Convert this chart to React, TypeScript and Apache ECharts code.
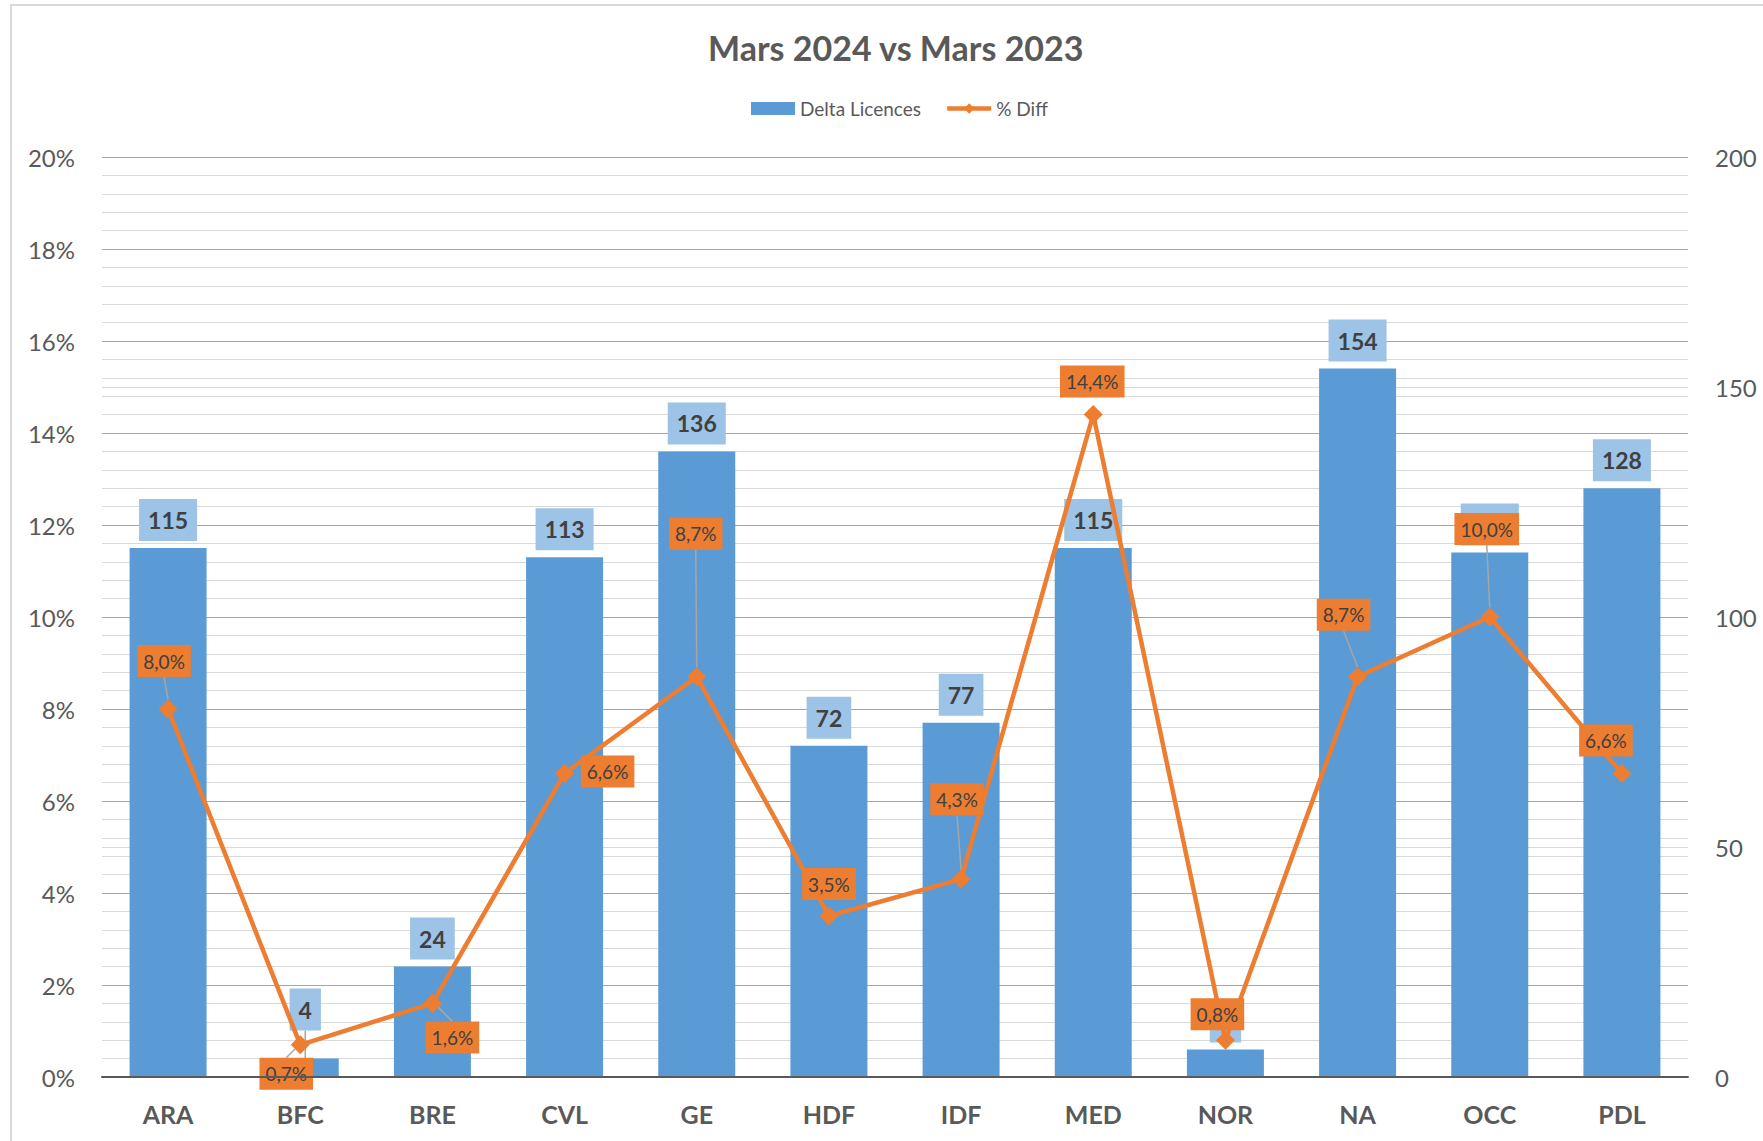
import { useEffect, useRef } from 'react';
import * as echarts from 'echarts';

const categories = ['ARA', 'BFC', 'BRE', 'CVL', 'GE', 'HDF', 'IDF', 'MED', 'NOR', 'NA', 'OCC', 'PDL'];
const deltaLicences = [115, 4, 24, 113, 136, 72, 77, 115, 6, 154, 114, 128];
const pctDiff = [8.0, 0.7, 1.6, 6.6, 8.7, 3.5, 4.3, 14.4, 0.8, 8.7, 10.0, 6.6];
const pctAxisMax = 20;
const pctAxisStep = 2;
const licAxisMax = 200;
const licAxisStep = 50;

// label placement (offsets in px from the marker), not data
const pctLabelOffsets: [number, number][] = [
  [-4, -48], [-14, 29], [20, 34], [43, -2], [-1, -143], [0, -32],
  [-4, -80], [-1, -33], [-8, -26], [-14, -62], [-3, -88], [-16, -33],
];
const pctLeader = [true, true, true, false, true, false, true, false, false, true, true, false];

const FONT = 'Lato, "Open Sans", sans-serif';

export default function App() {
  const ref = useRef<HTMLDivElement>(null);
  useEffect(() => {
    if (!ref.current) return;
    const chart = echarts.init(ref.current, undefined, { renderer: 'svg' });
    chart.setOption({
      animation: false,
      backgroundColor: '#ffffff',
      textStyle: { fontFamily: FONT },
      graphic: [
        {
          type: 'rect',
          shape: { x: 11, y: 5, width: 1900, height: 1300 },
          style: { fill: 'none', stroke: '#d9d9d9', lineWidth: 2 },
          silent: true,
          z: -10,
        },
      ],
      title: {
        text: 'Mars 2024 vs Mars 2023',
        left: 703,
        top: 25,
        textStyle: { fontFamily: FONT, fontSize: 34, fontWeight: 'bold', color: '#595959' },
      },
      legend: {
        top: 94,
        left: 746,
        itemWidth: 44,
        itemHeight: 13,
        itemGap: 24,
        textStyle: { fontFamily: FONT, fontSize: 19, color: '#595959' },
        data: [
          { name: 'Delta Licences', icon: 'rect' },
          { name: '% Diff', lineStyle: { width: 4.5 } },
        ],
      },
      grid: { left: 102, right: 75, top: 157, bottom: 64, containLabel: false },
      xAxis: {
        type: 'category',
        data: categories,
        boundaryGap: true,
        axisLine: { show: true, lineStyle: { color: '#595959', width: 2 } },
        axisTick: { show: false },
        axisLabel: { margin: 24, fontSize: 25, fontWeight: 'bold', color: '#595959', fontFamily: FONT },
        z: 5,
      },
      yAxis: [
        {
          type: 'value',
          min: 0,
          max: pctAxisMax,
          interval: pctAxisStep,
          position: 'left',
          axisLine: { show: false },
          axisTick: { show: false },
          axisLabel: { formatter: '{value}%', fontSize: 24, color: '#595959', margin: 27, fontFamily: FONT },
          splitLine: { show: true, lineStyle: { color: '#a6a6a6', width: 1.2 } },
          minorTick: { show: false, splitNumber: 5 },
          minorSplitLine: { show: true, lineStyle: { color: '#d9d9d9', width: 1.2 } },
        },
        {
          type: 'value',
          min: 0,
          max: licAxisMax,
          interval: licAxisStep,
          position: 'right',
          axisLine: { show: false },
          axisTick: { show: false },
          axisLabel: { fontSize: 24, color: '#595959', margin: 27, fontFamily: FONT },
          splitLine: {
            show: true,
            lineStyle: { color: ['rgba(0,0,0,0)', '#d9d9d9'], width: 1.2 },
          },
        },
      ],
      series: [
        {
          name: 'Delta Licences',
          type: 'bar',
          yAxisIndex: 1,
          barWidth: 77,
          itemStyle: { color: '#5B9BD5' },
          data: deltaLicences.map((v, i) => ({
            value: v,
            labelLine: { show: i === 1, lineStyle: { color: '#a6a6a6', width: 1.5 } },
          })),
          label: {
            show: true,
            position: 'top',
            distance: 7,
            backgroundColor: '#9DC3E6',
            padding: [6, 9, 6, 9],
            lineHeight: 30,
            fontSize: 23,
            fontWeight: 'bold',
            color: '#404040',
            fontFamily: FONT,
          },
          labelLayout: (p: any) => (p.dataIndex === 1 ? { dx: 5, dy: -21 } : {}),
        },
        {
          name: '% Diff',
          type: 'line',
          yAxisIndex: 0,
          symbol: 'diamond',
          symbolSize: 19,
          lineStyle: { color: '#ED7D31', width: 4.5 },
          itemStyle: { color: '#ED7D31' },
          data: pctDiff.map((v, i) => ({
            value: v,
            labelLine: { show: pctLeader[i], lineStyle: { color: '#a6a6a6', width: 1.5 } },
          })),
          label: {
            show: true,
            position: 'inside',
            formatter: (p: any) => p.value.toFixed(1).replace('.', ',') + '%',
            backgroundColor: '#ED7D31',
            padding: [5, 6, 5, 6],
            lineHeight: 22,
            fontSize: 19,
            color: '#404040',
            fontFamily: FONT,
          },
          labelLayout: (p: any) => ({ dx: pctLabelOffsets[p.dataIndex][0], dy: pctLabelOffsets[p.dataIndex][1] }),
          z: 3,
        },
      ],
    });
    return () => chart.dispose();
  }, []);
  return (
    <div
      ref={ref}
      style={{ position: 'absolute', left: 0, top: 0, width: 1763, height: 1141 }}
    />
  );
}
